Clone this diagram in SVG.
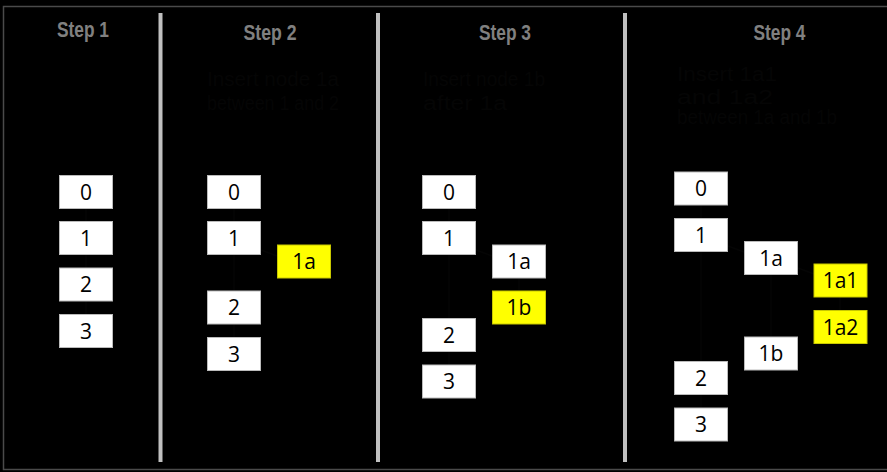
<svg xmlns="http://www.w3.org/2000/svg" width="887" height="472" viewBox="0 0 887 472">
<style>
.title{font-family:"Liberation Sans Narrow","Liberation Sans",sans-serif;font-weight:bold;font-size:22px;fill:#808080;text-anchor:middle}
.desc{font-family:"Liberation Sans Narrow","Liberation Sans",sans-serif;font-size:20px;fill:#050505}
.box{fill:#fff;stroke:#bbb;stroke-width:1}
.new{fill:#ffff00;stroke:#c8c800;stroke-width:1}
.lbl{font-family:"Open Sans","Liberation Sans",sans-serif;font-size:21px;fill:#000;text-anchor:middle}
.div{fill:#c0c0c0}
.conn line{stroke:#050505;stroke-width:1.5}
</style>
<rect x="0" y="0" width="887" height="472" fill="#000"/>
<rect x="3.5" y="6.5" width="890" height="463" fill="#000" stroke="#4a4a4a" stroke-width="1.5"/>
<rect class="div" x="158.5" y="13" width="4" height="449"/>
<rect class="div" x="376" y="13" width="4" height="449"/>
<rect class="div" x="623" y="13" width="4" height="449"/>
<g id="titles">
<text class="title" x="83" y="37" textLength="52" lengthAdjust="spacingAndGlyphs">Step 1</text>
<text class="title" x="270" y="39.5" textLength="53" lengthAdjust="spacingAndGlyphs">Step 2</text>
<text class="title" x="505" y="39.5" textLength="52" lengthAdjust="spacingAndGlyphs">Step 3</text>
<text class="title" x="779.5" y="39.5" textLength="52" lengthAdjust="spacingAndGlyphs">Step 4</text>
</g>
<g id="descriptions">
<text class="desc" x="207" y="86" textLength="132" lengthAdjust="spacingAndGlyphs">Insert node 1a</text>
<text class="desc" x="207" y="110" textLength="132" lengthAdjust="spacingAndGlyphs">between 1 and 2</text>
<text class="desc" x="423" y="86" textLength="122" lengthAdjust="spacingAndGlyphs">Insert node 1b</text>
<text class="desc" x="423" y="110" textLength="84" lengthAdjust="spacingAndGlyphs">after 1a</text>
<text class="desc" x="677" y="81" textLength="100" lengthAdjust="spacingAndGlyphs">Insert 1a1</text>
<text class="desc" x="677" y="104" textLength="96" lengthAdjust="spacingAndGlyphs">and 1a2</text>
<text class="desc" x="677" y="124" textLength="160" lengthAdjust="spacingAndGlyphs">between 1a and 1b</text>
</g>
<g id="connectors" class="conn">
<line x1="86" y1="209" x2="86" y2="221"/>
<line x1="86" y1="255" x2="86" y2="268"/>
<line x1="86" y1="301" x2="86" y2="314"/>
<line x1="234" y1="209" x2="234" y2="221"/>
<line x1="234" y1="255" x2="234" y2="291"/>
<line x1="234" y1="324" x2="234" y2="337"/>
<line x1="261" y1="250" x2="277" y2="256"/>
<line x1="449" y1="209" x2="449" y2="221"/>
<line x1="449" y1="255" x2="449" y2="318"/>
<line x1="449" y1="352" x2="449" y2="365"/>
<line x1="476" y1="250" x2="492" y2="256"/>
<line x1="519" y1="278" x2="519" y2="291"/>
<line x1="701" y1="205" x2="701" y2="218"/>
<line x1="701" y1="251" x2="701" y2="361"/>
<line x1="701" y1="395" x2="701" y2="408"/>
<line x1="728" y1="246" x2="744" y2="252"/>
<line x1="771" y1="275" x2="771" y2="337"/>
<line x1="798" y1="268" x2="814" y2="274"/>
<line x1="840" y1="297" x2="840" y2="310"/>
</g>
<g id="step1">
<g id="s1-n0"><rect class="box" x="59.5" y="175.5" width="53" height="33"/><text class="lbl" x="86" y="199.5">0</text></g>
<g id="s1-n1"><rect class="box" x="59.5" y="221.5" width="53" height="33"/><text class="lbl" x="86" y="245.5">1</text></g>
<g id="s1-n2"><rect class="box" x="59.5" y="268" width="53" height="33"/><text class="lbl" x="86" y="292">2</text></g>
<g id="s1-n3"><rect class="box" x="59.5" y="314.5" width="53" height="33"/><text class="lbl" x="86" y="338.5">3</text></g>
</g>
<g id="step2">
<g id="s2-n0"><rect class="box" x="207.5" y="175.5" width="53" height="33"/><text class="lbl" x="234" y="199.5">0</text></g>
<g id="s2-n1"><rect class="box" x="207.5" y="221.5" width="53" height="33"/><text class="lbl" x="234" y="245.5">1</text></g>
<g id="s2-n1a"><rect class="new" x="277.5" y="245" width="53" height="33"/><text class="lbl" x="304" y="269">1a</text></g>
<g id="s2-n2"><rect class="box" x="207.5" y="291" width="53" height="33"/><text class="lbl" x="234" y="315">2</text></g>
<g id="s2-n3"><rect class="box" x="207.5" y="337.5" width="53" height="33"/><text class="lbl" x="234" y="361.5">3</text></g>
</g>
<g id="step3">
<g id="s3-n0"><rect class="box" x="422.5" y="175.5" width="53" height="33"/><text class="lbl" x="449" y="199.5">0</text></g>
<g id="s3-n1"><rect class="box" x="422.5" y="221.5" width="53" height="33"/><text class="lbl" x="449" y="245.5">1</text></g>
<g id="s3-n1a"><rect class="box" x="492.5" y="245" width="53" height="33"/><text class="lbl" x="519" y="269">1a</text></g>
<g id="s3-n1b"><rect class="new" x="492.5" y="291" width="53" height="33"/><text class="lbl" x="519" y="315">1b</text></g>
<g id="s3-n2"><rect class="box" x="422.5" y="318.5" width="53" height="33"/><text class="lbl" x="449" y="342.5">2</text></g>
<g id="s3-n3"><rect class="box" x="422.5" y="365" width="53" height="33"/><text class="lbl" x="449" y="389">3</text></g>
</g>
<g id="step4">
<g id="s4-n0"><rect class="box" x="674.5" y="172" width="53" height="33"/><text class="lbl" x="701" y="196">0</text></g>
<g id="s4-n1"><rect class="box" x="674.5" y="218.5" width="53" height="33"/><text class="lbl" x="701" y="242.5">1</text></g>
<g id="s4-n1a"><rect class="box" x="744.5" y="241.5" width="53" height="33"/><text class="lbl" x="771" y="265.5">1a</text></g>
<g id="s4-n1a1"><rect class="new" x="814" y="264" width="53" height="33"/><text class="lbl" x="840.5" y="288">1a1</text></g>
<g id="s4-n1a2"><rect class="new" x="814" y="310.5" width="53" height="33"/><text class="lbl" x="840.5" y="334.5">1a2</text></g>
<g id="s4-n1b"><rect class="box" x="744.5" y="337" width="53" height="33"/><text class="lbl" x="771" y="361">1b</text></g>
<g id="s4-n2"><rect class="box" x="674.5" y="361.5" width="53" height="33"/><text class="lbl" x="701" y="385.5">2</text></g>
<g id="s4-n3"><rect class="box" x="674.5" y="408" width="53" height="33"/><text class="lbl" x="701" y="432">3</text></g>
</g>
</svg>
